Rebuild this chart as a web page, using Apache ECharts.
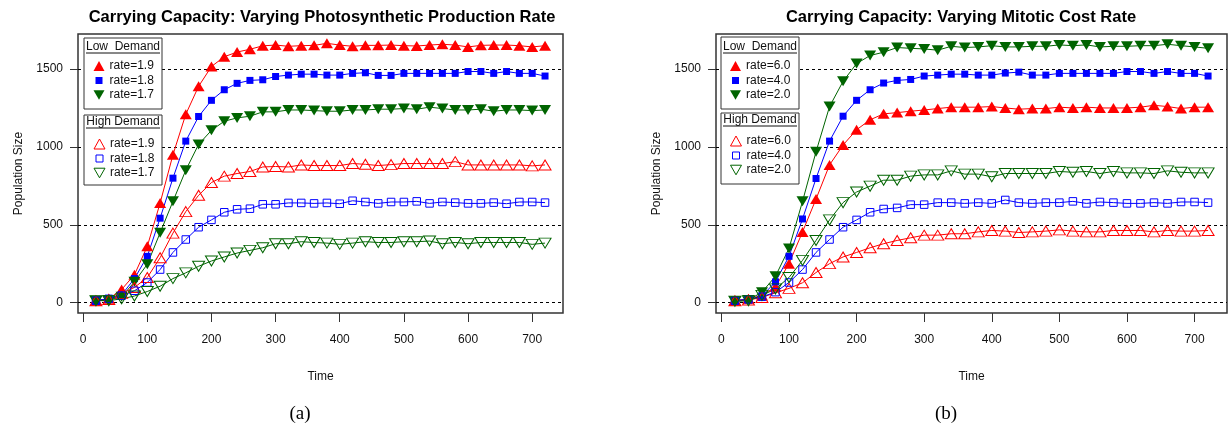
<!DOCTYPE html>
<html>
<head>
<meta charset="utf-8">
<script src="https://cdn.jsdelivr.net/npm/echarts@6.0.0/dist/echarts.min.js"></script>
<style>
  html, body { margin: 0; background: #fff; }
  #main { width: 1231px; height: 429px; }
</style>
</head>
<body>
<div id="main"></div>
<script>
// time axis, every 20 steps
const time = [20, 40, 60, 80, 100, 120, 140, 160, 180, 200, 220, 240, 260, 280, 300, 320, 340, 360,
  380, 400, 420, 440, 460, 480, 500, 520, 540, 560, 580, 600, 620, 640, 660, 680, 700, 720];
const xTicks = [0, 100, 200, 300, 400, 500, 600, 700];
const yTicks = [0, 500, 1000, 1500];

// (a) photosynthetic production rate
const photoLow19 = [13, 25, 85, 180, 362, 640, 950, 1210, 1390, 1517, 1580, 1610, 1628, 1650, 1655, 1647, 1651, 1653,
  1666, 1655, 1647, 1653, 1653, 1655, 1651, 1649, 1655, 1660, 1655, 1643, 1653, 1655, 1655, 1651, 1643, 1651];
const photoLow18 = [13, 25, 50, 155, 298, 543, 800, 1038, 1196, 1300, 1368, 1409, 1428, 1432, 1453, 1462, 1468, 1468,
  1462, 1462, 1473, 1477, 1460, 1460, 1473, 1473, 1473, 1473, 1473, 1485, 1485, 1473, 1485, 1473, 1473, 1456];
const photoLow17 = [13, 17, 38, 134, 247, 449, 651, 851, 1017, 1107, 1166, 1187, 1198, 1226, 1226, 1238, 1238, 1234,
  1230, 1230, 1238, 1238, 1243, 1243, 1247, 1243, 1256, 1247, 1238, 1238, 1243, 1230, 1238, 1238, 1234, 1238];
const photoHigh19 = [13, 21, 60, 98, 162, 289, 447, 585, 690, 772, 813, 830, 843, 872, 875, 872, 885, 881,
  881, 881, 894, 889, 881, 887, 894, 894, 894, 894, 906, 885, 885, 885, 885, 885, 879, 885];
const photoHigh18 = [13, 25, 45, 77, 130, 213, 323, 406, 485, 532, 581, 600, 604, 632, 632, 641, 641, 638,
  641, 636, 655, 647, 638, 647, 647, 651, 638, 647, 643, 638, 638, 643, 636, 647, 647, 643];
const photoHigh17 = [13, 13, 25, 43, 72, 106, 155, 192, 234, 268, 294, 319, 336, 353, 379, 379, 392, 387,
  383, 375, 383, 392, 387, 387, 392, 392, 396, 379, 387, 379, 387, 387, 387, 387, 375, 383];

// (b) mitotic cost rate
const mitoLow60 = [13, 25, 47, 102, 251, 455, 666, 885, 1013, 1111, 1175, 1213, 1221, 1230, 1238, 1247, 1256, 1256,
  1256, 1260, 1251, 1243, 1247, 1247, 1256, 1251, 1256, 1251, 1251, 1251, 1256, 1268, 1260, 1247, 1256, 1256];
const mitoLow40 = [13, 21, 43, 134, 298, 538, 798, 1038, 1198, 1300, 1368, 1411, 1428, 1434, 1456, 1462, 1468, 1468,
  1462, 1462, 1475, 1481, 1462, 1462, 1473, 1473, 1473, 1473, 1473, 1485, 1485, 1473, 1485, 1473, 1473, 1456];
const mitoLow20 = [9, 17, 68, 170, 349, 651, 970, 1260, 1422, 1536, 1588, 1609, 1639, 1634, 1630, 1622, 1647, 1639,
  1643, 1651, 1643, 1643, 1647, 1647, 1656, 1651, 1656, 1643, 1647, 1647, 1651, 1651, 1660, 1651, 1643, 1634];
const mitoHigh60 = [13, 17, 34, 64, 92, 128, 194, 251, 294, 323, 353, 379, 400, 417, 434, 434, 443, 443,
  455, 464, 460, 451, 455, 460, 468, 460, 455, 455, 464, 464, 464, 455, 464, 460, 460, 464];
const mitoHigh40 = [13, 21, 38, 68, 130, 213, 323, 406, 485, 532, 581, 602, 609, 630, 630, 643, 643, 638,
  643, 638, 660, 643, 638, 643, 643, 651, 638, 647, 643, 638, 638, 643, 638, 647, 647, 643];
const mitoHigh20 = [9, 13, 47, 89, 162, 272, 400, 532, 643, 711, 749, 787, 787, 813, 821, 821, 847, 826,
  826, 809, 830, 830, 830, 830, 843, 838, 843, 830, 843, 834, 834, 830, 847, 838, 834, 834];

const RED = '#ff0000', BLUE = '#0000ff', GREEN = '#006400';
const FONT = 'Liberation Sans, Arial, sans-serif';
const UP = 'triangle';
const DOWN = 'path://M0,0L10,0L5,8.7Z';
const SQ = 'rect';
// square icon padded so it stays small inside the legend item box
const SQ_ICON = 'path://M0,0M11,10M2,1.5h7v7h-7z';

function line (name, data, panel, color, symbol, size, hollow) {
  return {
    name: name,
    type: 'line',
    xAxisIndex: panel,
    yAxisIndex: panel,
    data: time.map((t, i) => [t, data[i]]),
    symbol: symbol,
    symbolSize: size,
    showAllSymbol: true,
    lineStyle: { color: color, width: 1 },
    itemStyle: hollow
      ? { color: 'rgba(255,255,255,0)', borderColor: color, borderWidth: 1 }
      : { color: color, borderWidth: 0 },
    emphasis: { disabled: true },
    z: 3
  }
}

// dashed reference lines at the y ticks
function gridLines (panel) {
  return {
    type: 'line',
    xAxisIndex: panel,
    yAxisIndex: panel,
    data: [],
    silent: true,
    z: 1,
    markLine: {
      silent: true,
      z: 1,
      symbol: ['none', 'none'],
      label: { show: false },
      lineStyle: { color: '#000', width: 1, type: [3, 3] },
      data: yTicks.map(v => ({ yAxis: v }))
    }
  }
}

function legendItem (name, icon, color, hollow) {
  return {
    name: name,
    icon: icon,
    itemStyle: hollow
      ? { color: 'rgba(255,255,255,0)', borderColor: color, borderWidth: 1 }
      : { color: color, borderWidth: 0 }
  }
}

function legend (left, top, items) {
  return {
    orient: 'vertical',
    left: left,
    top: top,
    itemWidth: 11,
    itemHeight: 10,
    itemGap: 2.5,
    padding: 0,
    z: 11,
    selectedMode: false,
    textStyle: { fontFamily: FONT, fontSize: 12, lineHeight: 12, color: '#111' },
    formatter: n => n.split('|')[1],
    data: items
  }
}

function xAxis (panel) {
  return {
    gridIndex: panel,
    type: 'value',
    min: -8,
    max: 748,
    axisLine: { show: false, onZero: false },
    axisTick: { show: true, length: 9, customValues: xTicks, lineStyle: { color: '#333', width: 1 } },
    axisLabel: { customValues: xTicks, margin: 21, fontFamily: FONT, fontSize: 12, color: '#111' },
    splitLine: { show: false },
    name: 'Time',
    nameLocation: 'middle',
    nameGap: 58,
    nameTextStyle: { fontFamily: FONT, fontSize: 12, color: '#111' }
  }
}

function yAxis (panel) {
  return {
    gridIndex: panel,
    type: 'value',
    min: -66,
    max: 1726,
    axisLine: { show: false, onZero: false },
    axisTick: { show: true, length: 8, customValues: yTicks, lineStyle: { color: '#333', width: 1 } },
    axisLabel: { customValues: yTicks, margin: 15, fontFamily: FONT, fontSize: 12, color: '#111', formatter: v => String(v) },
    splitLine: { show: false },
    name: 'Population Size',
    nameLocation: 'middle',
    nameGap: 53,
    nameTextStyle: { fontFamily: FONT, fontSize: 12, color: '#111' }
  }
}

function boxTitle (cx, y, x1, x2, text) {
  return [
    { type: 'text', x: cx, y: y, z: 12, style: { text: text, fill: '#111', font: '12px ' + FONT, align: 'center', verticalAlign: 'middle' } },
    { type: 'line', z: 12, shape: { x1: x1, y1: y + 6, x2: x2, y2: y + 6 }, style: { stroke: '#111', lineWidth: 1 } }
  ]
}

function rect (x, y, w, h) {
  return { type: 'rect', z: 10, shape: { x: x, y: y, width: w, height: h }, style: { fill: '#fff', stroke: '#333', lineWidth: 1 } }
}

function heading (cx, y, text) {
  return { type: 'text', x: cx, y: y, style: { text: text, fill: '#000', font: 'bold 16.5px ' + FONT, align: 'center', verticalAlign: 'middle' } }
}

function caption (cx, y, text) {
  return { type: 'text', x: cx, y: y, style: { text: text, fill: '#000', font: '19px Liberation Serif, Times New Roman, serif', align: 'center', verticalAlign: 'middle' } }
}

const chart = echarts.init(document.getElementById('main'))
const option = {
  animation: false,
  backgroundColor: '#fff',
  grid: [
    { left: 78, top: 34, width: 485, height: 279, show: true, borderColor: '#333', borderWidth: 1.5, backgroundColor: 'transparent' },
    { left: 716, top: 34, width: 511, height: 279, show: true, borderColor: '#333', borderWidth: 1.5, backgroundColor: 'transparent' }
  ],
  xAxis: [xAxis(0), xAxis(1)],
  yAxis: [yAxis(0), yAxis(1)],
  legend: [
    legend(93.5, 60, [
      legendItem('aL19|rate=1.9', UP, RED, false),
      legendItem('aL18|rate=1.8', SQ_ICON, BLUE, false),
      legendItem('aL17|rate=1.7', DOWN, GREEN, false)
    ]),
    legend(93.5, 138, [
      legendItem('aH19|rate=1.9', UP, RED, true),
      legendItem('aH18|rate=1.8', SQ_ICON, BLUE, true),
      legendItem('aH17|rate=1.7', DOWN, GREEN, true)
    ]),
    legend(730, 60, [
      legendItem('bL60|rate=6.0', UP, RED, false),
      legendItem('bL40|rate=4.0', SQ_ICON, BLUE, false),
      legendItem('bL20|rate=2.0', DOWN, GREEN, false)
    ]),
    legend(730, 135, [
      legendItem('bH60|rate=6.0', UP, RED, true),
      legendItem('bH40|rate=4.0', SQ_ICON, BLUE, true),
      legendItem('bH20|rate=2.0', DOWN, GREEN, true)
    ])
  ],
  graphic: [
    heading(322, 17, 'Carrying Capacity: Varying Photosynthetic Production Rate'),
    heading(961, 17, 'Carrying Capacity: Varying Mitotic Cost Rate'),
    caption(300, 414, '(a)'),
    caption(946, 414, '(b)'),
    rect(84, 38, 78, 71),
    rect(84, 115, 78, 70),
    rect(721, 37, 78, 72),
    rect(721, 113, 78, 71),
    ...boxTitle(123, 47, 86, 160, 'Low  Demand'),
    ...boxTitle(123, 122, 86, 160, 'High Demand'),
    ...boxTitle(760, 47, 723, 797, 'Low  Demand'),
    ...boxTitle(760, 120, 723, 797, 'High Demand')
  ],
  series: [
    gridLines(0),
    gridLines(1),
    line('aL19|rate=1.9', photoLow19, 0, RED, UP, [12, 10], false),
    line('aL18|rate=1.8', photoLow18, 0, BLUE, SQ, 7, false),
    line('aL17|rate=1.7', photoLow17, 0, GREEN, DOWN, [12, 10], false),
    line('aH19|rate=1.9', photoHigh19, 0, RED, UP, [12, 10], true),
    line('aH18|rate=1.8', photoHigh18, 0, BLUE, SQ, 7.5, true),
    line('aH17|rate=1.7', photoHigh17, 0, GREEN, DOWN, [12, 10], true),
    line('bL60|rate=6.0', mitoLow60, 1, RED, UP, [12, 10], false),
    line('bL40|rate=4.0', mitoLow40, 1, BLUE, SQ, 7, false),
    line('bL20|rate=2.0', mitoLow20, 1, GREEN, DOWN, [12, 10], false),
    line('bH60|rate=6.0', mitoHigh60, 1, RED, UP, [12, 10], true),
    line('bH40|rate=4.0', mitoHigh40, 1, BLUE, SQ, 7.5, true),
    line('bH20|rate=2.0', mitoHigh20, 1, GREEN, DOWN, [12, 10], true)
  ]
}
chart.setOption(option)
</script>
</body>
</html>
